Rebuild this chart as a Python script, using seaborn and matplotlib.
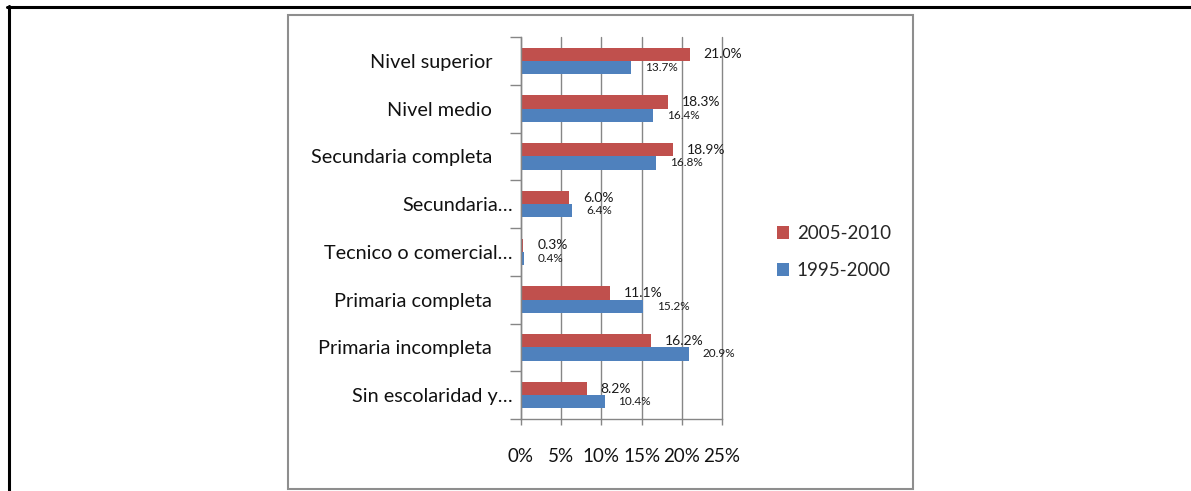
import matplotlib
matplotlib.use("Agg")
import pandas as pd
import matplotlib.pyplot as plt
import seaborn as sns
from matplotlib.lines import Line2D
from matplotlib.patches import Rectangle
from matplotlib.ticker import FixedLocator

# Data
categories = ['Nivel superior', 'Nivel medio', 'Secundaria completa', 'Secundaria\u2026',
              'Tecnico o comercial\u2026', 'Primaria completa', 'Primaria incompleta',
              'Sin escolaridad y\u2026']
series_names = ['2005-2010', '1995-2000']
values_2005_2010 = [21.0, 18.3, 18.9, 6.0, 0.3, 11.1, 16.2, 8.2]
values_1995_2000 = [13.7, 16.4, 16.8, 6.4, 0.4, 15.2, 20.9, 10.4]
x_ticks = [0, 5, 10, 15, 20, 25]

df = pd.DataFrame({
    'Nivel': categories * 2,
    'Periodo': [series_names[0]] * len(categories) + [series_names[1]] * len(categories),
    'Valor': values_2005_2010 + values_1995_2000,
})

sns.set_style('white')
plt.rcParams['font.family'] = ['Lato', 'DejaVu Sans']

W, H = 1191, 491
fig = plt.figure(figsize=(W / 100, H / 100), dpi=100)
ax = fig.add_axes([521 / W, 1 - 419 / H, 201 / W, 382 / H])

sns.barplot(data=df, y='Nivel', x='Valor', hue='Periodo', hue_order=series_names,
            palette=['#C0504D', '#4F81BD'], width=0.55, orient='h', saturation=1,
            errorbar=None, linewidth=0, ax=ax)

# data labels
for cont, fs in zip(ax.containers, [10, 8.5]):
    ax.bar_label(cont, labels=[f'{v:.1f}%' for v in cont.datavalues], padding=10,
                 fontsize=fs, color='#1a1a1a')

grey = '#868686'
ax.set_xlim(0, 25)
ax.set_ylim(len(categories) - 0.5, -0.5)
ax.set_xticks(x_ticks)
ax.set_xticklabels([f'{t}%' for t in x_ticks])
ax.set_yticks(range(len(categories)))
ax.set_yticklabels([c if c.endswith('\u2026') else c + '    ' for c in categories])
ax.yaxis.set_minor_locator(FixedLocator([i - 0.5 for i in range(len(categories) + 1)]))
ax.set_xlabel('')
ax.set_ylabel('')

ax.grid(axis='x', color=grey, linewidth=1)
for gl in ax.get_xgridlines():
    gl.set_clip_on(False)
ax.set_axisbelow(True)
for s in ['top', 'right']:
    ax.spines[s].set_visible(False)
for s in ['left', 'bottom']:
    ax.spines[s].set_color(grey)
    ax.spines[s].set_linewidth(1)

ax.tick_params(axis='x', length=4, width=1, color=grey, pad=17, labelsize=13.5,
               labelcolor='#111111', bottom=True)
ax.tick_params(axis='y', which='major', length=0, pad=6, labelsize=14.3, labelcolor='#111111')
ax.tick_params(axis='y', which='minor', length=8, width=1, color=grey, left=True)

handles, labels = ax.get_legend_handles_labels()
ax.legend(handles, labels, loc='center left', bbox_to_anchor=(777 / W, 1 - 252 / H),
          bbox_transform=fig.transFigure, frameon=False, fontsize=13.5,
          handlelength=0.65, handleheight=0.65, handletextpad=0.4, labelspacing=1.05,
          borderpad=0, borderaxespad=0)

# chart frame and page border
fig.add_artist(Rectangle((288 / W, 1 - 489 / H), (913 - 288) / W, (489 - 15) / H,
                         transform=fig.transFigure, fill=False, edgecolor='#8e8e8e', linewidth=1.5))
fig.add_artist(Line2D([7 / W, 1], [1 - 6.5 / H] * 2, color='black', linewidth=2.2,
                      transform=fig.transFigure))
fig.add_artist(Line2D([8.5 / W] * 2, [0, 1 - 6 / H], color='black', linewidth=2.2,
                      transform=fig.transFigure))

fig.savefig('out.png', dpi=100)
plt.close(fig)
